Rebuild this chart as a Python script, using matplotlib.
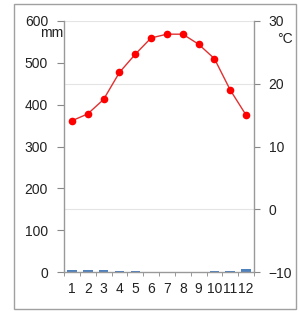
import matplotlib
matplotlib.use("Agg")
import matplotlib.pyplot as plt
from matplotlib.patches import Rectangle

months = ["1", "2", "3", "4", "5", "6", "7", "8", "9", "10", "11", "12"]
precip_mm = [5, 5, 5, 2, 2, 0, 0, 0, 0, 2, 2, 8]
temp_c = [14.1, 15.2, 17.5, 21.8, 24.7, 27.3, 27.9, 27.9, 26.3, 24.0, 19.0, 15.0]

plt.rcParams['font.family'] = ['Liberation Sans', 'DejaVu Sans']
fig = plt.figure(figsize=(2.99, 3.11), dpi=100)
fig.patches.append(Rectangle((14/299, 1 - 309/311), 282/299, 305/311, transform=fig.transFigure,
                             fill=False, edgecolor='#a0a0a0', linewidth=1.0))

FS = 10
ax = fig.add_axes([64/299, 39/311, 190/299, 251/311])
x = list(range(1, 13))
for gy in [150, 450, 600]:
    ax.axhline(gy, color='#e4e4e4', linewidth=0.8, zorder=0)
ax.bar(x, precip_mm, width=0.6, color='#4f81bd', zorder=2)
ax.set_xlim(0.5, 12.5)
ax.set_ylim(0, 600)
ax.set_yticks([0, 100, 200, 300, 400, 500, 600])
ax.set_xticks(x)
ax.set_xticklabels(months)
ax.set_xticks([i + 0.5 for i in range(0, 13)], minor=True)
ax.tick_params(axis='x', which='major', length=0, pad=7, labelsize=FS, colors='#222222')
ax.tick_params(axis='x', which='minor', length=3, color='#888888', direction='out')
ax.tick_params(axis='y', length=5, color='#888888', labelsize=FS, labelcolor='#222222', pad=6.5)
for s in ['top', 'right']:
    ax.spines[s].set_visible(False)
for s in ['left', 'bottom']:
    ax.spines[s].set_color('#999999')
    ax.spines[s].set_linewidth(1.0)
    ax.spines[s].set_zorder(5)

ax2 = ax.twinx()
ax2.set_ylim(-10, 30)
ax2.set_yticks([-10, 0, 10, 20, 30])
ax2.plot(x, temp_c, color='#e03030', linewidth=1.0, marker='o', markersize=4.5,
         markerfacecolor='#ff0000', markeredgecolor='#ff0000', zorder=3)
ax2.tick_params(axis='y', length=4, color='#888888', labelsize=FS, labelcolor='#222222', pad=6.5)
for s in ['top', 'left', 'bottom']:
    ax2.spines[s].set_visible(False)
ax2.spines['right'].set_color('#999999')
ax2.spines['right'].set_linewidth(1.0)

fig.text(63/299, 1 - 37/311, "mm", ha='right', va='baseline', fontsize=FS, color='#222222')
fig.text(285/299, 1 - 39/311, "°C", ha='center', va='center', fontsize=FS, color='#222222')

fig.savefig("out.png", dpi=100)
